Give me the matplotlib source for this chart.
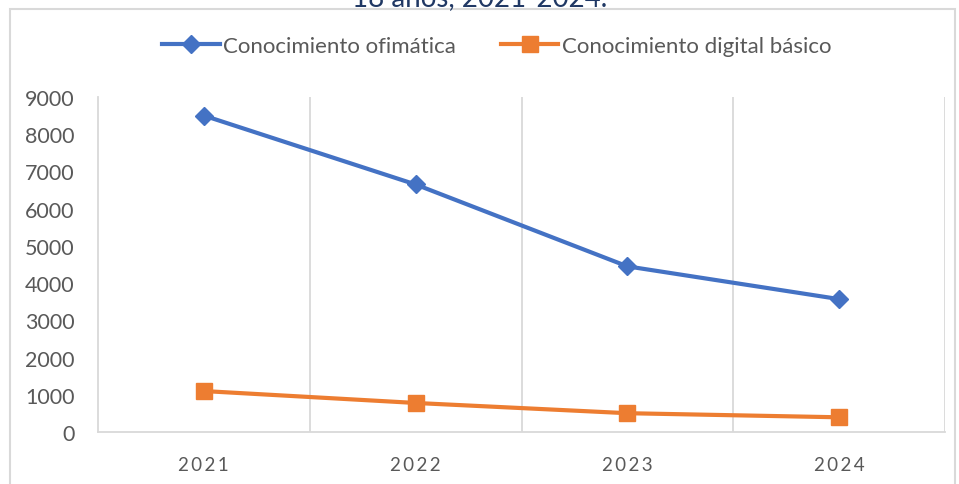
import numpy as np
import matplotlib.pyplot as plt
from matplotlib.patches import Rectangle

years = ['2021', '2022', '2023', '2024']
ofimatica = [8500, 6650, 4450, 3570]
digital_basico = [1100, 780, 505, 395]

BLUE = '#4472C4'
ORANGE = '#ED7D31'
GRID = '#D9D9D9'
TEXT = '#595959'

plt.rcParams['font.family'] = ['Lato', 'DejaVu Sans']

fig = plt.figure(figsize=(9.59, 4.85), dpi=100)
ax = fig.add_axes([98 / 959, 1 - 433 / 485, (945 - 98) / 959, (433 - 98) / 485])

# chart frame (Excel style)
fig.patches.append(Rectangle((10 / 959, -0.05), (955 - 10) / 959, 1.05 - 10 / 485,
                             transform=fig.transFigure, fill=False,
                             edgecolor=GRID, linewidth=1.5))

# title, only its last line shows at the top
fig.text(0.5, 1 - 6 / 485, '18 años, 2021-2024.', ha='center', va='baseline',
         fontsize=20, color='#203864')

x = np.arange(len(years))
ax.plot(x, ofimatica, color=BLUE, lw=3, marker='D', ms=9,
        label='Conocimiento ofimática')
ax.plot(x, digital_basico, color=ORANGE, lw=3, marker='s', ms=11,
        label='Conocimiento digital básico')

ax.set_xlim(-0.5, 3.5)
ax.set_ylim(0, 9000)
ax.set_yticks(range(0, 9001, 1000))
ax.set_xticks(x)
ax.set_xticklabels(['\u2009'.join(y) for y in years])
ax.set_xticks(np.arange(0.5, 3.6, 1), minor=True)
ax.grid(True, which='minor', axis='x', color=GRID, lw=1.3)
ax.tick_params(axis='both', which='both', length=0)
ax.tick_params(axis='y', labelsize=15.5, labelcolor=TEXT, pad=17)
ax.tick_params(axis='x', labelsize=13.5, labelcolor=TEXT, pad=17)

for s in ['top', 'right']:
    ax.spines[s].set_visible(False)
for s in ['left', 'bottom']:
    ax.spines[s].set_color(GRID)
    ax.spines[s].set_linewidth(1.3)

leg = fig.legend(loc='center', bbox_to_anchor=(0.518, 1 - 47 / 485), ncol=2,
                 frameon=False, fontsize=16, handlelength=2.6,
                 handletextpad=0.15, columnspacing=2.0)
for t in leg.get_texts():
    t.set_color(TEXT)

fig.savefig('out.png', dpi=100)
